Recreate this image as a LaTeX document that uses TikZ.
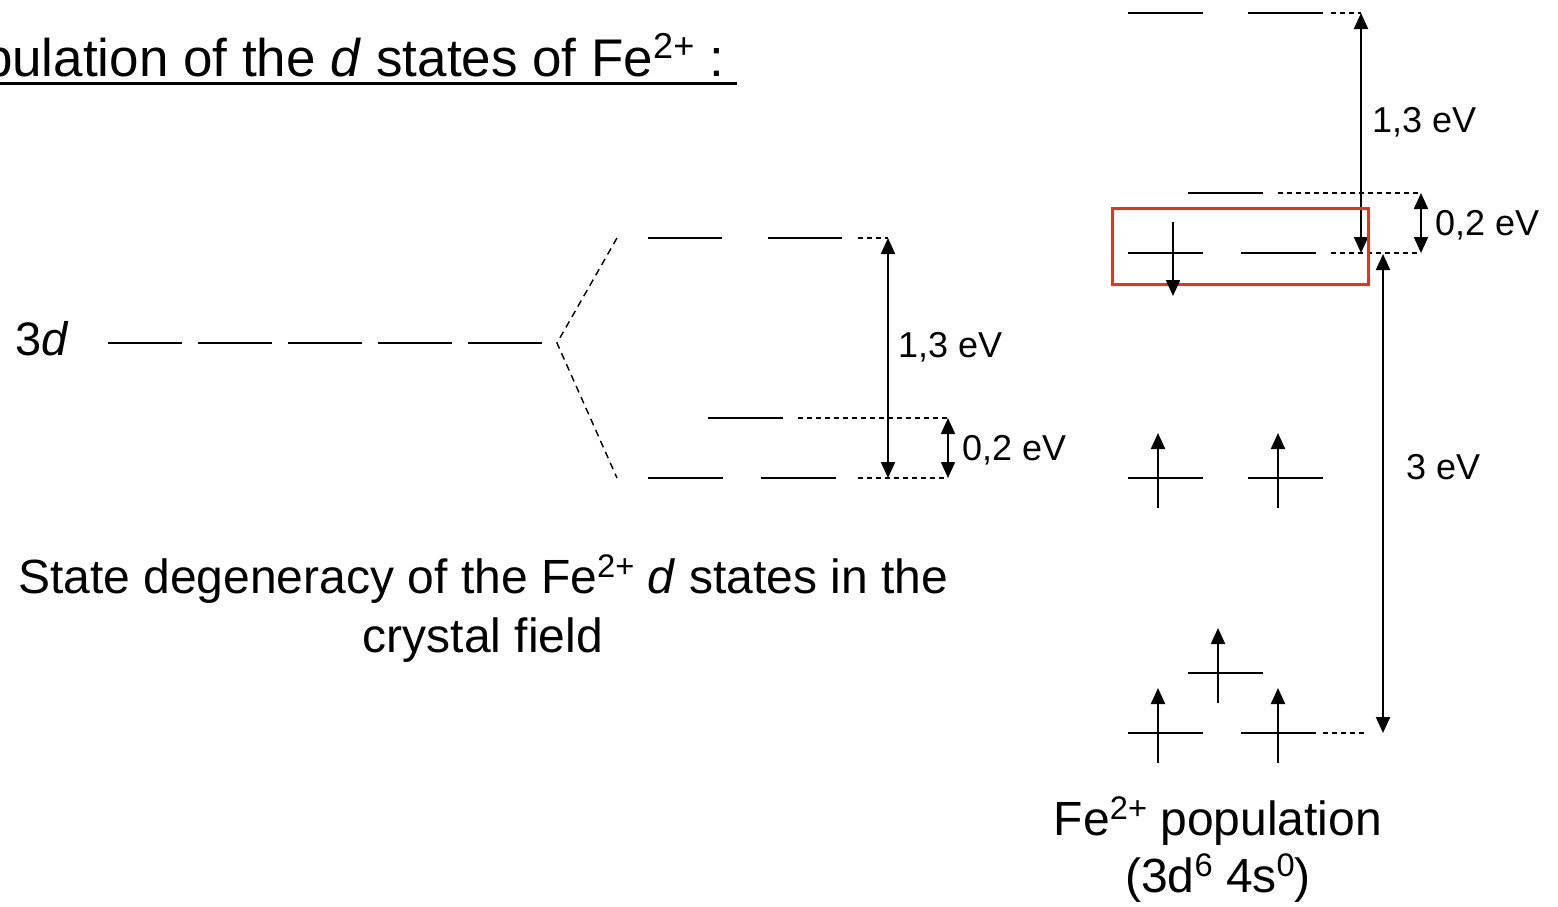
\documentclass[tikz,border=0pt]{standalone}
\usepackage{fontspec}
\setmainfont{Liberation Sans}
\usetikzlibrary{arrows.meta}
\definecolor{boxred}{RGB}{250,45,20}
\newcommand{\sps}[1]{\raisebox{0.33em}{\scalebox{0.68}{#1}}}
\begin{document}
\begin{tikzpicture}[x=1pt,y=-1pt,
  lev/.style={line width=2.2pt},
  dsh/.style={line width=1.6pt, dash pattern=on 5pt off 4pt},
  vdsh/.style={line width=1.4pt, dash pattern=on 7pt off 5pt},
  dbl/.style={line width=2pt,{Triangle[width=14pt,length=16pt]}-{Triangle[width=14pt,length=16pt]}},
  spin/.style={line width=2.2pt,-{Triangle[width=14pt,length=16pt]}},
  lbl/.style={font=\fontsize{36}{40}\selectfont, inner sep=0pt, anchor=west},
  big/.style={font=\fontsize{48}{56}\selectfont, inner sep=0pt, anchor=base},
]
\useasboundingbox (0,0) rectangle (1558,906);
\clip (0,0) rectangle (1558,906);

% title
\node[font=\fontsize{53}{60}\selectfont, inner sep=0pt, anchor=base west] (title) at (-82,76)
  {Population of the \textit{d} states of Fe\sps{2+} :};
\draw[line width=3pt] (title.west |- 0,83) -- (737,83);

% 3d label and levels
\node[font=\fontsize{47}{56}\selectfont, inner sep=0pt, anchor=base west] (lab3d) at (15,355) {3\textit{d}};
\foreach \a in {108,198,288,378,468}
  \draw[lev] (\a,343) -- ++(74,0);
\coordinate (apex) at (557,343);
\coordinate (vtop) at (617,238);
\coordinate (vbot) at (617,478);
\draw[vdsh] (vtop) -- (apex) -- (vbot);

% crystal-field levels
\draw[lev] (648,238) -- (722,238);
\draw[lev] (768,238) -- (842,238);
\draw[dsh] (858,238) -- (888,238);
\draw[lev] (708,418) -- (783,418);
\draw[dsh] (798,418) -- (948,418);
\draw[lev] (648,478) -- (723,478);
\draw[lev] (761,478) -- (836,478);
\draw[dsh] (858,478) -- (948,478);
\coordinate (m13t) at (888,238);
\coordinate (m13b) at (888,478);
\draw[dbl] (m13t) -- (m13b);
\node[lbl] (m13) at (898,347) {1,3 eV};
\coordinate (m02t) at (948,418);
\coordinate (m02b) at (948,478);
\draw[dbl] (m02t) -- (m02b);
\node[lbl] (m02) at (962,450) {0,2 eV};

\node[big] (cap1) at (483,593) {State degeneracy of the Fe\sps{2+} \textit{d} states in the};
\node[big] (cap2) at (483,652) {crystal field};

% right diagram
\draw[lev] (1128,13) -- (1203,13);
\draw[lev] (1248,13) -- (1323,13);
\draw[dsh] (1331,13) -- (1361,13);
\coordinate (r13t) at (1361,13);
\coordinate (r13b) at (1361,253);
\draw[dbl] (r13t) -- (r13b);
\node[lbl] (r13) at (1372,122) {1,3 eV};

\draw[lev] (1188,193) -- (1263,193);
\draw[dsh] (1278,193) -- (1421,193);
\draw[lev] (1128,253) -- (1203,253);
\draw[lev] (1241,253) -- (1316,253);
\draw[dsh] (1331,253) -- (1421,253);
\coordinate (r02t) at (1421,193);
\coordinate (r02b) at (1421,253);
\draw[dbl] (r02t) -- (r02b);
\node[lbl] (r02) at (1435,225) {0,2 eV};

\draw[boxred, line width=3pt] (1112,208) rectangle (1368,284);
\draw[spin] (1173,222) -- (1173,296);

\coordinate (r3t) at (1383,254);
\coordinate (r3b) at (1383,733);
\draw[dbl] (r3t) -- (r3b);
\node[lbl] (r3) at (1406,467) {3 eV};

\draw[lev] (1128,478) -- (1203,478);
\draw[spin] (1158,508) -- (1158,433);
\draw[lev] (1248,478) -- (1323,478);
\draw[spin] (1278,508) -- (1278,433);

\draw[lev] (1188,673) -- (1263,673);
\draw[spin] (1218,703) -- (1218,628);

\draw[lev] (1128,733) -- (1203,733);
\draw[spin] (1158,763) -- (1158,688);
\draw[lev] (1241,733) -- (1316,733);
\draw[spin] (1278,763) -- (1278,688);
\draw[dsh] (1323,733) -- (1367,733);

\node[big] (pop1) at (1218,835) {Fe\sps{2+} population};
\node[big] (pop2) at (1218,892) {(3d\sps{6} 4s\sps{0})};
\end{tikzpicture}
\end{document}
